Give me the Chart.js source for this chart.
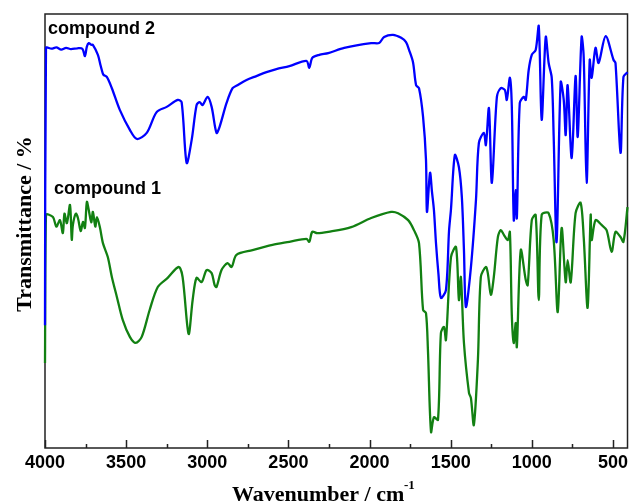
<!DOCTYPE html>
<html>
<head>
<meta charset="utf-8">
<script src="https://cdn.jsdelivr.net/npm/chart.js@4"></script>
<style>
  html, body { margin: 0; padding: 0; background: #fff; }
  #ir { display: block; }
</style>
</head>
<body>
<canvas id="ir" width="632" height="504"></canvas>
<script>
// compound 2 (blue), wavenumber / cm-1 and transmittance
const wn2 = [4000, 3994, 3960, 3930, 3900, 3870, 3840, 3800, 3770, 3754, 3742, 3730, 3715, 3705, 3674, 3660,
  3650, 3640, 3619, 3588, 3539, 3477, 3434, 3373, 3312, 3250, 3182, 3158, 3127, 3096, 3066, 3047, 3029, 2998,
  2973, 2943, 2924, 2881, 2844, 2814, 2758, 2697, 2635, 2574, 2494, 2389, 2371, 2353, 2310, 2254, 2156, 1990,
  1941, 1910, 1855, 1805, 1775, 1756, 1732, 1713, 1695, 1670, 1652, 1646, 1627, 1615, 1603, 1590, 1575, 1560,
  1529, 1510, 1498, 1474, 1449, 1431, 1418, 1406, 1375, 1344, 1326, 1295, 1283, 1264, 1246, 1215, 1191, 1166,
  1154, 1135, 1123, 1111, 1099, 1092, 1074, 1049, 1037, 1019, 1000, 976, 957, 939, 914, 896, 877, 865, 847,
  822, 803, 791, 779, 754, 730, 717, 693, 680, 662, 643, 631, 607, 588, 545, 496, 484, 453, 435, 410];
const t2 = [28.3, 92.2, 92.0, 92.3, 91.8, 92.2, 91.9, 92.1, 92.0, 90.3, 92.5, 93.3, 92.9, 92.9, 90.6, 88.5,
  87.1, 86.0, 85.5, 82.9, 77.9, 73.3, 71.2, 72.6, 77.4, 78.6, 80.2, 79.7, 65.7, 71.0, 79.0, 79.7, 79.0, 80.9,
  78.6, 72.6, 74.0, 79.5, 82.9, 83.6, 84.8, 85.7, 86.6, 87.3, 88.0, 89.2, 87.6, 89.9, 90.6, 91.0, 92.2, 93.3,
  93.3, 94.7, 95.2, 94.5, 93.5, 91.7, 88.9, 83.6, 82.9, 76.3, 66.4, 54.4, 63.4, 59.0, 54.8, 47.0, 40.0, 34.6,
  36.4, 50.0, 55.0, 67.5, 64.7, 57.8, 45.6, 32.5, 41.7, 57.1, 70.3, 72.6, 69.8, 78.3, 61.1, 80.9, 82.9, 82.5,
  80.2, 85.3, 78.6, 52.5, 59.4, 53.0, 79.5, 80.9, 80.2, 87.1, 90.6, 91.7, 97.2, 75.6, 94.7, 88.7, 85.3, 71.7, 47.5,
  84.3, 80.2, 72.1, 83.6, 66.8, 85.7, 71.7, 94.7, 90.1, 61.1, 89.4, 85.3, 92.2, 88.7, 94.9, 89.4, 88.7, 68.0, 85.5, 86.6];

// compound 1 (green)
const wn1 = [4000, 3994, 3951, 3930, 3908, 3890, 3880, 3865, 3846, 3835, 3828, 3810, 3797, 3780, 3766, 3754,
  3742, 3730, 3715, 3705, 3690, 3680, 3662, 3643, 3613, 3588, 3557, 3521, 3477, 3441, 3404, 3355, 3305, 3244,
  3176, 3152, 3115, 3090, 3066, 3035, 3004, 2973, 2955, 2943, 2912, 2875, 2850, 2820, 2721, 2598, 2494, 2389,
  2371, 2353, 2322, 2254, 2113, 1990, 1867, 1824, 1762, 1726, 1695, 1670, 1652, 1640, 1621, 1603, 1578, 1560,
  1541, 1529, 1498, 1467, 1449, 1437, 1418, 1387, 1375, 1357, 1332, 1314, 1283, 1271, 1252, 1234, 1209, 1191,
  1172, 1148, 1135, 1123, 1111, 1099, 1092, 1068, 1037, 1025, 1000, 976, 957, 939, 896, 865, 840, 816, 791,
  779, 760, 730, 699, 680, 656, 637, 631, 607, 570, 539, 508, 484, 453, 435, 410];
const t1 = [19.6, 53.7, 53.2, 51.0, 52.5, 49.5, 54.0, 51.8, 56.0, 48.0, 51.4, 54.0, 53.0, 50.0, 52.1, 50.7,
  56.7, 54.8, 52.0, 54.4, 51.0, 53.2, 50.9, 47.2, 44.0, 39.4, 34.8, 29.5, 25.6, 24.2, 25.6, 31.8, 37.1, 39.2,
  41.7, 39.4, 26.3, 34.1, 39.2, 38.2, 41.0, 40.3, 37.6, 37.1, 41.0, 42.6, 41.7, 44.5, 45.6, 46.8, 47.5, 48.2,
  47.5, 49.8, 49.5, 49.8, 50.9, 53.0, 54.4, 54.1, 52.5, 50.2, 47.2, 31.8, 31.1, 22.6, 3.7, 7.1, 6.5, 26.5,
  27.9, 24.9, 44.0, 46.3, 34.1, 39.4, 24.2, 12.7, 11.5, 5.3, 20.3, 39.4, 41.7, 40.3, 35.3, 39.4, 48.6, 50.2,
  49.1, 47.9, 49.8, 30.6, 24.2, 28.8, 23.3, 45.6, 38.7, 37.5, 52.5, 53.7, 34.1, 53.7, 54.1, 47.9, 31.3, 50.7, 38.2,
  43.3, 38.2, 54.1, 56.5, 48.6, 32.3, 53.7, 47.9, 52.5, 51.4, 50.2, 45.2, 49.8, 48.6, 47.5, 55.5];

const xTicks = [4000, 3500, 3000, 2500, 2000, 1500, 1000, 500];
const xMinor = [3750, 3250, 2750, 2250, 1750, 1250, 750];

const toPoints = (xs, ys) => xs.map((x, i) => ({ x: x, y: ys[i] }));

// frame + inward ticks, drawn under the curves like in the original
const frame = {
  id: 'frame',
  beforeDatasetsDraw(chart) {
    const { ctx, chartArea: a, scales: { x } } = chart;
    ctx.save();
    ctx.strokeStyle = '#222';
    ctx.lineWidth = 1.5;
    ctx.strokeRect(a.left, a.top, a.right - a.left, a.bottom - a.top);
    ctx.beginPath();
    xTicks.forEach(v => {
      const px = Math.round(x.getPixelForValue(v)) + 0.5;
      ctx.moveTo(px, a.bottom); ctx.lineTo(px, a.bottom - 8);
    });
    xMinor.forEach(v => {
      const px = Math.round(x.getPixelForValue(v)) + 0.5;
      ctx.moveTo(px, a.bottom); ctx.lineTo(px, a.bottom - 4);
    });
    ctx.stroke();
    ctx.restore();
  },
  afterDraw(chart) {
    const { ctx } = chart;
    ctx.save();
    ctx.fillStyle = '#000';
    ctx.textBaseline = 'alphabetic';
    ctx.font = 'bold 18px "Liberation Sans", Arial, sans-serif';
    ctx.fillText('compound 2', 48, 34);
    ctx.fillText('compound 1', 54, 194);

    ctx.font = 'bold 22px "Liberation Serif", "Times New Roman", serif';
    ctx.fillText('Wavenumber / cm', 232, 501);
    ctx.font = 'bold 13px "Liberation Serif", "Times New Roman", serif';
    ctx.fillText('-1', 404, 489);

    ctx.translate(31, 224);
    ctx.rotate(-Math.PI / 2);
    ctx.textAlign = 'center';
    ctx.font = 'bold 22px "Liberation Serif", "Times New Roman", serif';
    ctx.fillText('Transmittance / %', 0, 0);
    ctx.restore();
  }
};

new Chart(document.getElementById('ir'), {
  type: 'line',
  data: {
    datasets: [
      {
        label: 'compound 2',
        data: toPoints(wn2, t2),
        borderColor: '#0000ff',
        borderWidth: 2.3,
        clip: false
      },
      {
        label: 'compound 1',
        data: toPoints(wn1, t1),
        borderColor: '#128012',
        borderWidth: 2.3,
        clip: false
      }
    ]
  },
  options: {
    responsive: false,
    animation: false,
    layout: { padding: { left: 45, right: 3, top: 14, bottom: 0 } },
    elements: { point: { radius: 0 }, line: { tension: 0.3, fill: false, borderJoinStyle: 'round' } },
    plugins: { legend: { display: false }, tooltip: { enabled: false } },
    scales: {
      x: {
        type: 'linear',
        reverse: true,
        min: 410,
        max: 4000,
        grid: { display: false, drawTicks: false },
        border: { display: false },
        afterBuildTicks: scale => { scale.ticks = xTicks.map(v => ({ value: v })); },
        afterFit: scale => { scale.height = 56; },
        ticks: {
          padding: 4,
          maxRotation: 0,
          autoSkip: false,
          color: '#000',
          font: { family: '"Liberation Sans", Arial, sans-serif', size: 18, weight: 'bold' },
          callback: v => String(v)
        }
      },
      y: {
        display: false,
        min: 0,
        max: 100
      }
    }
  },
  plugins: [frame]
});
</script>
</body>
</html>
